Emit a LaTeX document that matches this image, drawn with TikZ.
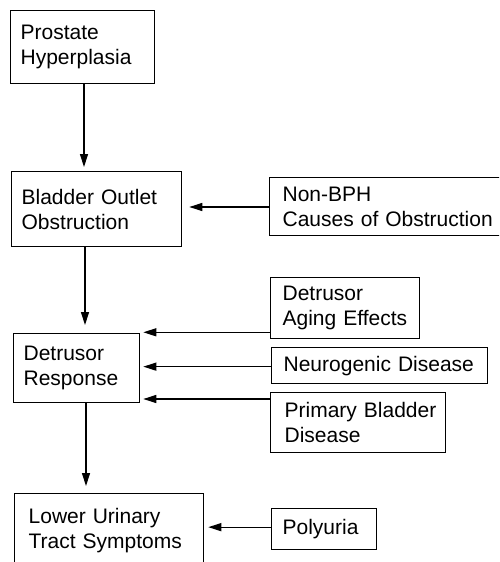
\documentclass[tikz,border=0pt]{standalone}
\usepackage{fontspec}
\setmainfont{Liberation Sans}
\usetikzlibrary{arrows.meta,calc}
\newcommand\bxfont{\fontsize{21}{25}\selectfont\hyphenpenalty=10000\relax\exhyphenpenalty=10000\relax\hbadness=10000\relax\hfuzz=100pt\relax}
\tikzset{
  box/.style={draw, line width=1.3pt, rectangle, anchor=north west, align=left,
    font=\bxfont, inner ysep=0pt},
  arr/.style={line width=1.3pt, -{Triangle[length=13pt,width=8pt]}}
}
\begin{document}
\begin{tikzpicture}[x=1pt,y=-1pt]
\useasboundingbox (0,0) rectangle (499,562);
\clip (0,0) rectangle (499,562);
\node[box, minimum width=144pt, minimum height=73pt, inner xsep=10pt, text width=124pt] (ph) at (10,10) {Prostate\\Hyperplasia};
\node[box, minimum width=170pt, minimum height=75pt, inner xsep=10pt, text width=150pt] (boo) at (11,171) {Bladder~Outlet\\Obstruction};
\node[box, minimum width=236pt, minimum height=58pt, inner xsep=13pt, text width=210pt] (nb) at (269,177) {Non-BPH\\Causes~of~Obstruction};
\node[box, minimum width=126pt, minimum height=69pt, inner xsep=10pt, text width=106pt] (dr) at (13,333) {Detrusor\\Response};
\node[box, minimum width=149pt, minimum height=61pt, inner xsep=12pt, text width=125pt] (ag) at (270,277) {Detrusor\\Aging~Effects};
\node[box, minimum width=216pt, minimum height=36pt, inner xsep=12pt, text width=192pt] (ne) at (271,347) {Neurogenic~Disease};
\node[box, minimum width=175pt, minimum height=60pt, inner xsep=14pt, text width=147pt] (pb) at (270,392) {Primary~Bladder\\Disease};
\node[box, minimum width=189pt, minimum height=74pt, inner xsep=14pt, text width=161pt] (lu) at (14,493) {Lower~Urinary\\Tract~Symptoms};
\node[box, minimum width=105pt, minimum height=41pt, inner xsep=11pt, text width=83pt] (po) at (271,508) {Polyuria};

\draw[arr, shorten >=4pt] ($(ph.south west)+(74,0)$) coordinate (p1) -- (p1 |- boo.north);
\draw[arr, shorten >=7pt] ($(nb.north west)+(0,30)$) coordinate (p2) -- (p2 -| boo.east);
\draw[arr, shorten >=8pt] ($(boo.south west)+(74,0)$) coordinate (p3) -- (p3 |- dr.north);
\draw[arr, shorten >=3pt] ($(ag.south west)+(0,-7)$) coordinate (p4) -- (p4 -| dr.east);
\draw[arr, shorten >=3pt] ($(ne.west)+(0,1)$) coordinate (p5) -- (p5 -| dr.east);
\draw[arr, shorten >=3pt] ($(pb.north west)+(0,7)$) coordinate (p6) -- (p6 -| dr.east);
\draw[arr, shorten >=7pt] ($(dr.south west)+(73,0)$) coordinate (p7) -- (p7 |- lu.north);
\draw[arr, shorten >=4pt] ($(po.west)+(0,-2)$) coordinate (p8) -- (p8 -| lu.east);
\end{tikzpicture}
\end{document}
